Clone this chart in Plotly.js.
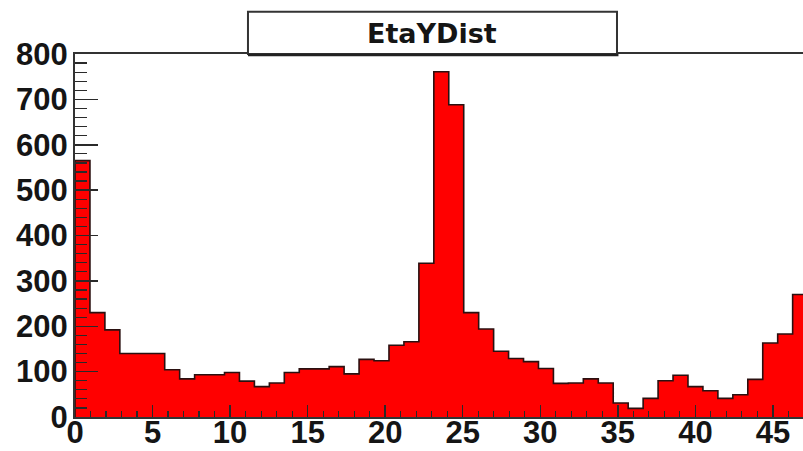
<!DOCTYPE html>
<html>
<head>
<meta charset="utf-8">
<script src="https://cdn.plot.ly/plotly-3.0.1.min.js"></script>
<style>
  html, body { margin: 0; padding: 0; background: #ffffff; }
  #chart { width: 803px; height: 451px; }
</style>
</head>
<body>
<div id="chart"></div>
<script>
// EtaYDist histogram: entries per bin, fixed-width bins starting at 0
const histTitle = "EtaYDist";
const binWidth = 0.964;
const counts = [
  565, 230, 192, 140, 140, 140, 104, 84, 93, 93,
  98, 79, 67, 75, 98, 106, 106, 111, 95, 127,
  124, 158, 166, 339, 761, 688, 230, 194, 145, 129,
  122, 107, 74, 75, 84, 75, 31, 19, 41, 80,
  92, 67, 58, 41, 49, 83, 163, 183, 270
];
const xTickVals = [0, 5, 10, 15, 20, 25, 30, 35, 40, 45];
const yTickVals = [0, 100, 200, 300, 400, 500, 600, 700, 800];

// bin centres for the filled bars, bin edges for the outline
const centers = counts.map((_, i) => (i + 0.5) * binWidth);
const edgesX = [0].concat(counts.map((_, i) => i * binWidth), [counts.length * binWidth]);
const edgesY = [0].concat(counts, [counts[counts.length - 1]]);

const fill = {
  type: "bar",
  x: centers,
  y: counts,
  width: binWidth,
  marker: { color: "#ff0000", line: { width: 0 } },
  hoverinfo: "x+y"
};

const outline = {
  type: "scatter",
  mode: "lines",
  x: edgesX,
  y: edgesY,
  line: { shape: "hv", color: "#2a1010", width: 1.6 },
  hoverinfo: "skip"
};

const tickFont = { family: "Liberation Sans, Arial, sans-serif", size: 31, color: "#151515", weight: "bold" };

const layout = {
  width: 803,
  height: 451,
  margin: { l: 75, r: 0, t: 54, b: 34 },
  paper_bgcolor: "#ffffff",
  plot_bgcolor: "#ffffff",
  showlegend: false,
  bargap: 0,
  xaxis: {
    range: [0, 46.94],
    tickmode: "array",
    tickvals: xTickVals,
    ticks: "inside",
    ticklen: 12,
    tickwidth: 1.5,
    tickcolor: "#2a2a2a",
    minor: { dtick: 1, tick0: 0, ticks: "inside", ticklen: 6, tickwidth: 1.2, tickcolor: "#2a2a2a", showgrid: false },
    showline: true,
    linecolor: "#333333",
    linewidth: 2,
    mirror: true,
    showgrid: false,
    zeroline: false,
    tickfont: tickFont,
    ticklabelstandoff: -13
  },
  yaxis: {
    range: [0, 800],
    tickmode: "array",
    tickvals: yTickVals,
    ticks: "inside",
    ticklen: 23,
    tickwidth: 1.5,
    tickcolor: "#2a2a2a",
    minor: { dtick: 20, tick0: 0, ticks: "inside", ticklen: 12, tickwidth: 1.2, tickcolor: "#2a2a2a", showgrid: false },
    showline: true,
    linecolor: "#333333",
    linewidth: 2,
    mirror: false,
    showgrid: false,
    zeroline: false,
    tickfont: tickFont,
    ticklabelstandoff: -1
  },
  shapes: [
    {
      // title pave with a slightly heavier lower-right shadow edge
      type: "rect", xref: "paper", yref: "paper",
      x0: 0.2376, x1: 0.7445, y0: 1.0, y1: 1.1165,
      line: { color: "#333333", width: 2 },
      fillcolor: "#ffffff",
      layer: "above"
    },
    {
      type: "line", xref: "paper", yref: "paper",
      x0: 0.2376, x1: 0.7465, y0: 0.997, y1: 0.997,
      line: { color: "#222222", width: 2.5 },
      layer: "above"
    }
  ],
  annotations: [
    {
      text: histTitle,
      xref: "paper", yref: "paper",
      x: 0.491, y: 1.057,
      xanchor: "center", yanchor: "middle",
      showarrow: false,
      font: { family: "DejaVu Sans, sans-serif", size: 27, color: "#151515", weight: "bold" }
    }
  ]
};

Plotly.newPlot("chart", [fill, outline], layout, { displayModeBar: false, staticPlot: true });
</script>
</body>
</html>
